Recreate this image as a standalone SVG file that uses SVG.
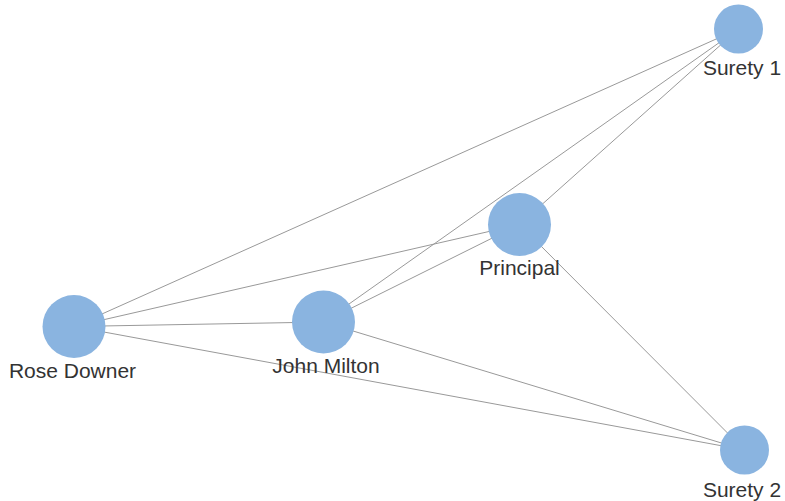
<svg xmlns="http://www.w3.org/2000/svg" width="785" height="501" viewBox="0 0 785 501">
<style>
.link{stroke:#999;stroke-width:1;fill:none}
.node circle{fill:#8ab4e0}
.node text{font-family:"Liberation Sans",Arial,sans-serif;font-size:21px;fill:#333;text-anchor:middle}
</style>
<rect width="785" height="501" fill="#fff"/>
<g id="links">
<line class="link" x1="74" y1="326.5" x2="738.5" y2="29"/>
<line class="link" x1="74" y1="326.5" x2="519.5" y2="224.5"/>
<line class="link" x1="74" y1="326.5" x2="323.5" y2="322"/>
<line class="link" x1="74" y1="326.5" x2="744.5" y2="450"/>
<line class="link" x1="323.5" y1="322" x2="738.5" y2="29"/>
<line class="link" x1="323.5" y1="322" x2="519.5" y2="224.5"/>
<line class="link" x1="323.5" y1="322" x2="744.5" y2="450"/>
<line class="link" x1="519.5" y1="224.5" x2="738.5" y2="29"/>
<line class="link" x1="519.5" y1="224.5" x2="744.5" y2="450"/>
</g>
<g id="surety1" class="node"><circle cx="738.5" cy="29" r="24.5"/><text x="742" y="75">Surety 1</text></g>
<g id="principal" class="node"><circle cx="519.5" cy="224.5" r="31.5"/><text x="519.5" y="275">Principal</text></g>
<g id="rose" class="node"><circle cx="74" cy="326.5" r="31.5"/><text x="72.5" y="378">Rose Downer</text></g>
<g id="john" class="node"><circle cx="323.5" cy="322" r="31.5"/><text x="326" y="373">John Milton</text></g>
<g id="surety2" class="node"><circle cx="744.5" cy="450" r="24.5"/><text x="742" y="497">Surety 2</text></g>
</svg>
